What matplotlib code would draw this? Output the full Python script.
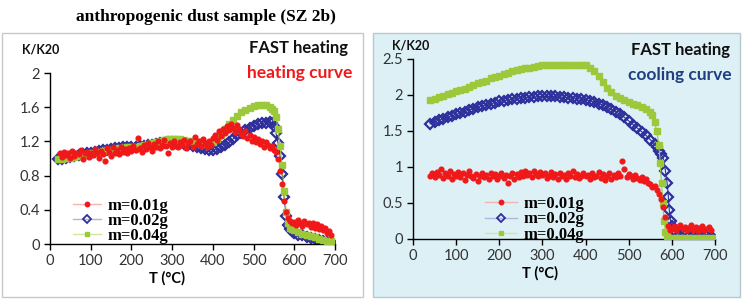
"""Anthropogenic dust sample (SZ 2b): K/K20 heating and cooling curves."""

import matplotlib
matplotlib.use("Agg")
import matplotlib.pyplot as plt
from matplotlib.lines import Line2D
from matplotlib.patches import Rectangle
import numpy as np

# ── Data: heating curve (left panel) ──────────────────────────────────
heat_T_02 = [20, 30, 40, 50, 60, 70, 80, 90, 100, 110, 120, 130, 140, 150, 160, 170,
             180, 190, 200, 210, 220, 230, 240, 250, 260, 270, 280, 290, 300, 310,
             320, 330, 340, 350, 360, 370, 380, 390, 400, 410, 420, 430, 440, 450,
             460, 470, 480, 490, 500, 510, 520, 530, 540, 545, 550, 555, 560, 565,
             570, 575, 580, 585, 590, 595, 600, 610, 620, 630, 640, 650, 660, 670,
             680, 690, 695]
heat_K_02 = [1.00, 1.00, 1.01, 1.02, 1.03, 1.04, 1.05, 1.06, 1.07, 1.08, 1.09, 1.10,
             1.10, 1.11, 1.12, 1.12, 1.13, 1.13, 1.14, 1.14, 1.15, 1.15, 1.16, 1.16,
             1.17, 1.18, 1.18, 1.19, 1.19, 1.19, 1.18, 1.17, 1.16, 1.15, 1.13, 1.12,
             1.11, 1.10, 1.10, 1.11, 1.13, 1.16, 1.19, 1.23, 1.27, 1.30, 1.33, 1.36,
             1.38, 1.40, 1.41, 1.42, 1.43, 1.42, 1.38, 1.30, 1.18, 1.03, 0.82, 0.55,
             0.33, 0.22, 0.17, 0.15, 0.13, 0.11, 0.10, 0.08, 0.07, 0.06, 0.05, 0.04,
             0.02, 0.01, 0.00]

heat_T_04 = [20, 30, 40, 50, 60, 70, 80, 90, 100, 110, 120, 130, 140, 150, 160, 170,
             180, 190, 200, 210, 220, 230, 240, 250, 260, 270, 280, 290, 300, 310,
             320, 330, 340, 350, 360, 370, 380, 390, 400, 410, 420, 430, 440, 450,
             460, 470, 480, 490, 500, 510, 520, 530, 540, 545, 550, 555, 560, 565,
             570, 575, 580, 585, 590, 595, 600, 610, 620, 630, 640, 650, 660, 670,
             680, 690]
heat_K_04 = [1.00, 1.00, 1.01, 1.01, 1.02, 1.03, 1.04, 1.05, 1.06, 1.07, 1.08, 1.09,
             1.10, 1.10, 1.11, 1.12, 1.12, 1.13, 1.13, 1.14, 1.15, 1.16, 1.17, 1.18,
             1.19, 1.21, 1.22, 1.23, 1.23, 1.23, 1.23, 1.22, 1.21, 1.20, 1.19, 1.18,
             1.17, 1.17, 1.19, 1.23, 1.28, 1.34, 1.40, 1.45, 1.50, 1.54, 1.57, 1.59,
             1.61, 1.62, 1.62, 1.62, 1.60, 1.58, 1.55, 1.48, 1.35, 1.15, 0.92, 0.62,
             0.38, 0.24, 0.19, 0.17, 0.16, 0.14, 0.12, 0.10, 0.09, 0.08, 0.06, 0.05,
             0.04, 0.03]

heat_T_01 = np.arange(25, 691, 5)  # measured every 5 °C
heat_K_01 = [1.07, 1.02, 1.08, 1.04, 1.06, 1.01, 1.09, 1.03, 1.07, 1.05, 1.10, 1.00,
             1.06, 1.08, 1.02, 1.07,
             1.04, 1.11, 1.06, 1.01, 1.09, 1.05, 0.97, 1.12, 1.08, 1.03, 1.13, 1.07,
             1.10, 1.05, 1.14, 1.08, 1.11, 1.06, 1.12, 1.09,
             1.15, 1.10, 1.24, 1.12, 1.08, 1.16, 1.11, 1.18, 1.13, 1.09, 1.17, 1.14,
             1.20, 1.12, 1.16, 1.22, 1.15, 1.06, 1.18, 1.14,
             1.20, 1.15, 1.13, 1.19, 1.16, 1.22, 1.12, 1.18, 1.21, 1.14, 1.25, 1.17,
             1.20, 1.15, 1.23, 1.18, 1.13, 1.21, 1.16, 1.24,
             1.28, 1.22, 1.32, 1.26, 1.35, 1.30, 1.38, 1.33, 1.40, 1.36, 1.31, 1.39,
             1.34, 1.29, 1.26, 1.32, 1.24, 1.28, 1.21, 1.25,
             1.19, 1.23, 1.17, 1.21, 1.14, 1.19, 1.16, 1.12, 1.15, 1.10, 1.08, 1.00,
             0.85, 0.70, 0.50, 0.38, 0.30, 0.27, 0.25, 0.26,
             0.22, 0.28, 0.24, 0.21, 0.27, 0.23, 0.25, 0.20, 0.24, 0.19, 0.23, 0.18,
             0.21, 0.16, 0.19, 0.13, 0.15, 0.10]

# ── Data: cooling curve (right panel) ─────────────────────────────────
cool_T_04 = [40, 50, 60, 70, 80, 90, 100, 110, 120, 130, 140, 150, 160, 170, 180,
             190, 200, 210, 220, 230, 240, 250, 260, 270, 280, 290, 300, 310, 320,
             330, 340, 350, 360, 370, 380, 390, 400, 410, 420, 430, 440, 450, 460,
             470, 480, 490, 500, 510, 520, 530, 540, 550, 555, 560, 565, 570, 573,
             576, 579, 582, 585, 588, 591, 600, 610, 620, 630, 640, 650, 660, 670,
             680, 690, 700]
cool_K_04 = [1.93, 1.95, 1.97, 1.99, 2.01, 2.03, 2.05, 2.07, 2.09, 2.11, 2.14, 2.16,
             2.18, 2.20, 2.23, 2.25, 2.27, 2.29, 2.31, 2.33, 2.35, 2.36, 2.37, 2.38,
             2.39, 2.40, 2.41, 2.41, 2.42, 2.42, 2.42, 2.42, 2.42, 2.42, 2.42, 2.42,
             2.41, 2.38, 2.33, 2.26, 2.18, 2.10, 2.04, 1.99, 1.96, 1.93, 1.90, 1.88,
             1.86, 1.84, 1.81, 1.77, 1.72, 1.62, 1.50, 1.30, 1.05, 0.78, 0.50, 0.25,
             0.10, 0.04, 0.02, 0.02, 0.02, 0.02, 0.02, 0.02, 0.02, 0.02, 0.02, 0.02,
             0.02, 0.02]

cool_T_02 = [40, 50, 60, 70, 80, 90, 100, 110, 120, 130, 140, 150, 160, 170, 180,
             190, 200, 210, 220, 230, 240, 250, 260, 270, 280, 290, 300, 310, 320,
             330, 340, 350, 360, 370, 380, 390, 400, 410, 420, 430, 440, 450, 460,
             470, 480, 490, 500, 510, 520, 530, 540, 550, 560, 565, 570, 575, 580,
             585, 589, 592, 594, 597, 600, 605, 610, 620, 630, 640, 650, 660, 670,
             680, 690, 695]
cool_K_02 = [1.60, 1.63, 1.65, 1.67, 1.69, 1.71, 1.73, 1.75, 1.77, 1.79, 1.81, 1.83,
             1.85, 1.86, 1.88, 1.89, 1.91, 1.92, 1.93, 1.94, 1.95, 1.96, 1.96, 1.97,
             1.97, 1.98, 1.98, 1.98, 1.98, 1.98, 1.97, 1.97, 1.96, 1.96, 1.95, 1.94,
             1.93, 1.92, 1.90, 1.88, 1.86, 1.83, 1.80, 1.77, 1.73, 1.69, 1.64, 1.59,
             1.54, 1.49, 1.44, 1.38, 1.32, 1.28, 1.22, 1.18, 1.12, 0.95, 0.78, 0.58,
             0.40, 0.25, 0.18, 0.12, 0.08, 0.06, 0.05, 0.04, 0.04, 0.04, 0.04, 0.04,
             0.03, 0.02]

cool_T_01 = np.arange(40, 691, 5)  # measured every 5 °C
cool_K_01 = [0.88, 0.91, 0.86, 0.93, 0.89, 0.97, 0.85, 0.92, 0.88, 0.95, 0.84, 0.90,
             0.87,
             0.93, 0.86, 0.91, 0.82, 0.89, 0.94, 0.87, 0.85, 0.90, 0.80, 0.88, 0.92,
             0.86, 0.89, 0.83, 0.91, 0.87, 0.90, 0.84, 0.88,
             0.92, 0.85, 0.89, 0.78, 0.87, 0.91, 0.84, 0.90, 0.86, 0.93, 0.88, 0.95,
             0.89, 0.92, 0.86, 0.94, 0.90, 0.87, 0.93, 0.89,
             0.91, 0.85, 0.88, 0.93, 0.86, 0.90, 0.84, 0.92, 0.87, 0.89, 0.83, 0.91,
             0.88, 0.94, 0.86, 0.90, 0.85, 0.88, 0.92, 0.87,
             0.89, 0.84, 0.91, 0.86, 0.88, 0.93, 0.85, 0.90, 0.82, 0.87, 0.91, 0.84,
             0.89, 0.86, 0.92, 0.88, 1.08, 0.97, 0.86, 0.90,
             0.87, 0.84, 0.89, 0.85, 0.82, 0.86, 0.80, 0.83, 0.78, 0.76, 0.72, 0.74,
             0.68, 0.62, 0.55, 0.45, 0.30, 0.18, 0.12, 0.15,
             0.18, 0.13, 0.16, 0.20, 0.14, 0.17, 0.12, 0.15, 0.19, 0.13, 0.16, 0.11,
             0.15, 0.18, 0.12, 0.14, 0.17, 0.13]

labels = ["m=0.01g", "m=0.02g", "m=0.04g"]

# ── Styles ────────────────────────────────────────────────────────────
RED, BLUE, GREEN = "#f01818", "#2f2f9c", "#9cc93a"
FAINT = ["#f4b4b4", "#b4b4e0", "#cfe6a4"]
SANS = "Lato"
SERIF = "Liberation Serif"

fig = plt.figure(figsize=(7.45, 3.0), dpi=100)
fig.patch.set_facecolor("white")

W, H = 745, 300
def fig_rect(x0, y0, x1, y1):
    # pixel box (top-left origin) -> figure fraction rect
    return [x0 / W, 1 - y1 / H, (x1 - x0) / W, (y1 - y0) / H]

# panel frames (behind the axes)
fig.patches.append(Rectangle((2 / W, 1 - 297 / H), 361 / W, 264 / H,
                             transform=fig.transFigure, facecolor="white",
                             edgecolor="#c8c8c8", linewidth=1, zorder=-5))
fig.patches.append(Rectangle((373 / W, 1 - 297 / H), 367 / W, 264 / H,
                             transform=fig.transFigure, facecolor="#dcf0f6",
                             edgecolor="#b8c8cc", linewidth=1, zorder=-5))

fig.text(206 / W, 1 - 17 / H, "anthropogenic dust sample (SZ 2b)", ha="center",
         va="center", fontsize=12.5, fontweight="bold", family=SERIF)

ax_h = fig.add_axes(fig_rect(50, 73, 335, 244))
ax_c = fig.add_axes(fig_rect(413, 59, 715, 239))


def style(ax, ymax, yticks, xlab_x, xlab_y):
    ax.set_facecolor("none")
    ax.set_xlim(0, 700)
    ax.set_ylim(0, ymax)
    ax.set_xticks(range(0, 701, 100))
    ax.set_yticks(yticks)
    ax.set_yticklabels([f"{v:g}" for v in yticks])
    for s in ("top", "right"):
        ax.spines[s].set_visible(False)
    for s in ("left", "bottom"):
        ax.spines[s].set_color("black")
        ax.spines[s].set_linewidth(1)
    ax.tick_params(direction="out", length=4, width=1, labelsize=10.5,
                   labelcolor="#333333", pad=3)
    for t in ax.get_xticklabels() + ax.get_yticklabels():
        t.set_family(SANS)
    ax.set_xlabel("T (°C)", fontsize=10.5, fontweight="bold", family=SANS)
    ax.xaxis.set_label_coords(xlab_x, xlab_y)


def draw(ax, T01, K01, T02, K02, T04, K04):
    ax.plot(T02, K02, color=BLUE, lw=0.8, marker="D", ms=5.5, mfc="none",
            mec=BLUE, mew=1.6, zorder=2)
    ax.plot(T04, K04, color=GREEN, lw=0.8, marker="s", ms=4.2, mfc=GREEN,
            mec=GREEN, zorder=3)
    ax.plot(T01, K01, ls="none", marker="o", ms=3.4, mfc=RED, mec=RED,
            zorder=4)


def legend(ax, x, y, hl):
    handles = [
        Line2D([], [], color=FAINT[0], lw=1, marker="o", ms=3.2, mfc=RED, mec=RED),
        Line2D([], [], color=FAINT[1], lw=1, marker="D", ms=4.5, mfc="none",
               mec=BLUE, mew=1.3),
        Line2D([], [], color=FAINT[2], lw=1, marker="s", ms=3.5, mfc=GREEN,
               mec=GREEN),
    ]
    ax.legend(handles, labels, loc="lower left", bbox_to_anchor=(x, y),
              frameon=False, prop={"family": SERIF, "weight": "bold", "size": 12},
              handlelength=hl, handletextpad=0.4, labelspacing=-0.05,
              borderpad=0, borderaxespad=0)


style(ax_h, 2, [0, 0.4, 0.8, 1.2, 1.6, 2], 0.41, -0.16)
draw(ax_h, heat_T_01, heat_K_01, heat_T_02, heat_K_02, heat_T_04, heat_K_04)
legend(ax_h, 0.08, 0.0, 1.7)

style(ax_c, 2.5, [0, 0.5, 1, 1.5, 2, 2.5], 0.42, -0.15)
draw(ax_c, cool_T_01, cool_K_01, cool_T_02, cool_K_02, cool_T_04, cool_K_04)
legend(ax_c, 0.24, -0.02, 1.9)

# panel annotations
fig.text(348 / W, 1 - 48 / H, "FAST heating", ha="right", va="center",
         fontsize=12, fontweight="bold", family=SANS, color="#111111")
fig.text(352 / W, 1 - 73 / H, "heating curve", ha="right", va="center",
         fontsize=12.5, fontweight="bold", family=SANS, color=RED)
fig.text(730 / W, 1 - 50 / H, "FAST heating", ha="right", va="center",
         fontsize=12, fontweight="bold", family=SANS, color="#111111")
fig.text(732 / W, 1 - 75 / H, "cooling curve", ha="right", va="center",
         fontsize=12.5, fontweight="bold", family=SANS, color="#1f3f80")
fig.text(22 / W, 1 - 50 / H, "K/K20", ha="left", va="center", fontsize=9,
         fontweight="bold", family=SANS, color="#111111")
fig.text(392 / W, 1 - 45 / H, "K/K20", ha="left", va="center", fontsize=9,
         fontweight="bold", family=SANS, color="#111111")

fig.savefig("out.png", dpi=100, facecolor="white")
